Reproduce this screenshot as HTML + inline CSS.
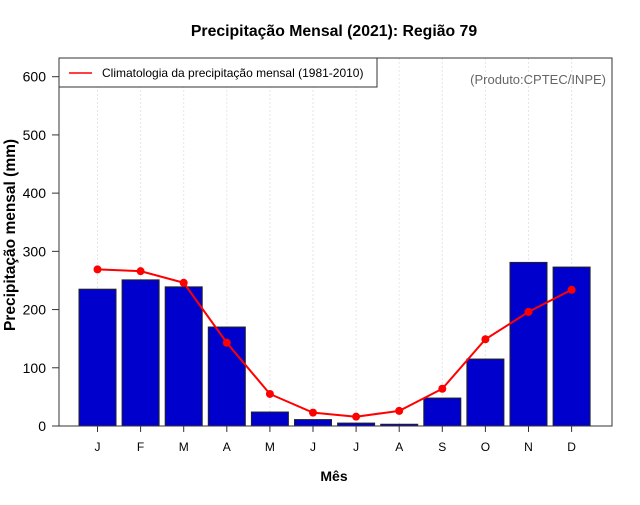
<!DOCTYPE html>
<html><head><meta charset="utf-8"><style>
body{margin:0;background:#fff}
svg text{font-family:"Liberation Sans",Arial,sans-serif}
</style></head><body>
<svg width="640" height="500" viewBox="0 0 640 500">
<rect width="640" height="500" fill="#fff"/>
<text x="334" y="36" text-anchor="middle" font-size="15.8" font-weight="bold">Precipitação Mensal (2021): Região 79</text>
<g id="grid"></g>
<g id="bars"></g>
<g id="line"></g>
<g id="axes"></g>
<rect x="59" y="58" width="553" height="368" fill="none" stroke="#333" stroke-width="1"/>
<g>
<rect x="59" y="58" width="318" height="29" fill="#fff" stroke="#333" stroke-width="1"/>
<line x1="69" y1="73" x2="92" y2="73" stroke="red" stroke-width="1.5"/>
<text x="102" y="77" font-size="12">Climatologia da precipitação mensal (1981-2010)</text>
</g>
<text x="606" y="84" text-anchor="end" font-size="13" fill="#666">(Produto:CPTEC/INPE)</text>
<text x="334" y="481" text-anchor="middle" font-size="14" font-weight="bold">Mês</text>
<text transform="translate(15,235) rotate(-90)" text-anchor="middle" font-size="15.5" font-weight="bold">Precipitação mensal (mm)</text>
</svg>
<script>
const months=["J","F","M","A","M","J","J","A","S","O","N","D"];
const observed=[235,251,239,170,24,11,5,3,48,115,281,273];
const climatology=[269,266,246,143,55,23,16,26,64,149,196,234];
const yTicks=[0,100,200,300,400,500,600];
const NS="http://www.w3.org/2000/svg";
const x=i=>97.5+i*43.1;
const y=v=>426-v*(349.3/600);
function mk(tag,attrs,parent){const e=document.createElementNS(NS,tag);for(const k in attrs)e.setAttribute(k,attrs[k]);document.getElementById(parent).appendChild(e);return e;}
months.forEach((m,i)=>{
  const g=mk('line',{x1:x(i),x2:x(i),y1:58,y2:426,stroke:'#e6e6e6','stroke-dasharray':'2,2'},'grid');
  
  
  const b=mk('rect',{x:x(i)-18.5,y:y(observed[i]),width:37,height:426-y(observed[i]),fill:'#0000cc',stroke:'#222','stroke-width':1},'bars');
  
  
  const t=mk('line',{x1:x(i),x2:x(i),y1:426,y2:432,stroke:'#333'},'axes');
  
  
  const l=mk('text',{x:x(i),y:451,'text-anchor':'middle','font-size':12},'axes');
  l.textContent=m;
  
  
});
const pl=mk('polyline',{points:climatology.map((v,i)=>x(i)+','+y(v)).join(' '),fill:'none',stroke:'red','stroke-width':2},'line');


climatology.forEach((v,i)=>{
  const c=mk('circle',{cx:x(i),cy:y(v),r:4,fill:'red'},'line');
  
  
});
yTicks.forEach(v=>{
  const t=mk('line',{x1:52,x2:59,y1:y(v),y2:y(v),stroke:'#333'},'axes');
  
  
  const l=mk('text',{x:46,y:y(v)+5,'text-anchor':'end','font-size':14},'axes');
  l.textContent=v;
  
  
});
</script>
</body></html>
